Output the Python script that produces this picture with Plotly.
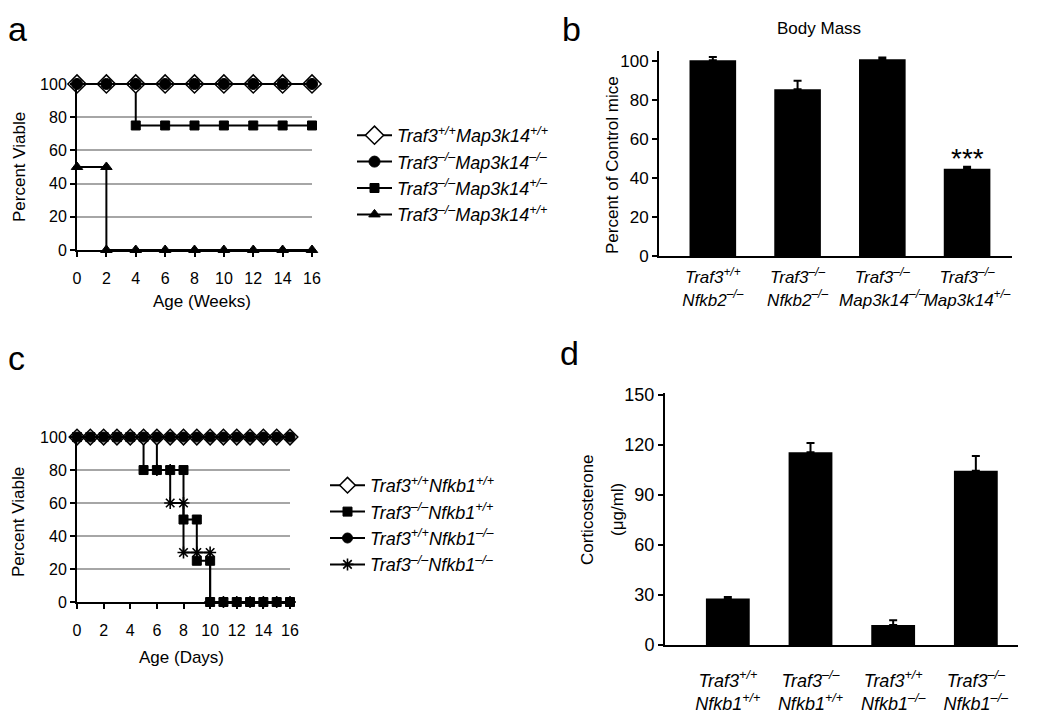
import plotly.graph_objects as go

# The page places the figure 8 px from the top-left corner; the figure is
# sized so that it fills the remaining 1050x726 viewport exactly.
OFF = 8
W, H = 1050 - OFF, 726 - OFF
FONT = "Liberation Sans, Arial, sans-serif"

# ---------------- Panel a data (weeks) ----------------
a_wt_x = [0, 2, 4, 6, 8, 10, 12, 14, 16]
a_wt_y = [100, 100, 100, 100, 100, 100, 100, 100, 100]
a_dko_x = [0, 2, 4, 6, 8, 10, 12, 14, 16]
a_dko_y = [100, 100, 100, 100, 100, 100, 100, 100, 100]
a_het_x = [0, 2, 4, 4, 6, 8, 10, 12, 14, 16]
a_het_y = [100, 100, 100, 75, 75, 75, 75, 75, 75, 75]
a_ko_x = [0, 2, 2, 4, 6, 8, 10, 12, 14, 16]
a_ko_y = [50, 50, 0, 0, 0, 0, 0, 0, 0, 0]
a_names = ["<i>Traf3<sup>+/+</sup>Map3k14<sup>+/+</sup></i>",
           "<i>Traf3<sup>–/–</sup>Map3k14<sup>–/–</sup></i>",
           "<i>Traf3<sup>–/–</sup>Map3k14<sup>+/–</sup></i>",
           "<i>Traf3<sup>–/–</sup>Map3k14<sup>+/+</sup></i>"]

# ---------------- Panel b data ----------------
b_labels = ["<i>Traf3<sup>+/+</sup><br>Nfkb2<sup>–/–</sup></i>",
            "<i>Traf3<sup>–/–</sup><br>Nfkb2<sup>–/–</sup></i>",
            "<i>Traf3<sup>–/–</sup><br>Map3k14<sup>–/–</sup></i>",
            "<i>Traf3<sup>–/–</sup><br>Map3k14<sup>+/–</sup></i>"]
b_vals = [100.2, 85.4, 100.8, 44.7]
b_err = [1.7, 4.3, 0.9, 1.0]

# ---------------- Panel c data (days) ----------------
c_wt_x = [0, 1, 2, 3, 4, 5, 6, 7, 8, 9, 10, 11, 12, 13, 14, 15, 16]
c_wt_y = [100, 100, 100, 100, 100, 100, 100, 100, 100, 100, 100, 100, 100, 100, 100, 100, 100]
c_n1_x = [0, 1, 2, 3, 4, 5, 6, 7, 8, 9, 10, 11, 12, 13, 14, 15, 16]
c_n1_y = [100, 100, 100, 100, 100, 100, 100, 100, 100, 100, 100, 100, 100, 100, 100, 100, 100]
c_t3_x = [0, 1, 2, 3, 4, 5, 5, 6, 7, 8, 8, 9, 9, 10, 10, 11, 12, 13, 14, 15, 16]
c_t3_y = [100, 100, 100, 100, 100, 100, 80, 80, 80, 80, 50, 50, 25, 25, 0, 0, 0, 0, 0, 0, 0]
c_dko_x = [0, 1, 2, 3, 4, 5, 6, 6, 7, 7, 8, 8, 9, 10, 10, 11, 12, 13, 14, 15, 16]
c_dko_y = [100, 100, 100, 100, 100, 100, 100, 80, 80, 60, 60, 30, 30, 30, 0, 0, 0, 0, 0, 0, 0]
c_names = ["<i>Traf3<sup>+/+</sup>Nfkb1<sup>+/+</sup></i>",
           "<i>Traf3<sup>–/–</sup>Nfkb1<sup>+/+</sup></i>",
           "<i>Traf3<sup>+/+</sup>Nfkb1<sup>–/–</sup></i>",
           "<i>Traf3<sup>–/–</sup>Nfkb1<sup>–/–</sup></i>"]

# ---------------- Panel d data ----------------
d_labels = ["<i>Traf3<sup>+/+</sup><br>Nfkb1<sup>+/+</sup></i>",
            "<i>Traf3<sup>–/–</sup><br>Nfkb1<sup>+/+</sup></i>",
            "<i>Traf3<sup>+/+</sup><br>Nfkb1<sup>–/–</sup></i>",
            "<i>Traf3<sup>–/–</sup><br>Nfkb1<sup>–/–</sup></i>"]
d_vals = [27.8, 115.5, 12.0, 104.4]
d_err = [1.0, 5.6, 2.8, 8.8]


def px_x(p):
    return (p - OFF) / W


def px_y(p):
    return 1 - (p - OFF) / H


fig = go.Figure()
LINE = dict(color="black", width=2)


def surv(x, y, name, sym, size, fill, xa, ya, leg, rank, lw=1.5):
    fig.add_trace(go.Scatter(
        x=x, y=y, name=name, mode="lines+markers", line=LINE,
        marker=dict(symbol=sym, size=size, color=fill,
                    line=dict(color="black", width=lw)),
        xaxis=xa, yaxis=ya, legend=leg, legendrank=rank,
        cliponaxis=False, legendgroup=leg + str(rank)))


# panel a (draw order: triangle, square, diamond, circle)
surv(a_ko_x, a_ko_y, a_names[3], "triangle-up", 10, "black", "x", "y", "legend", 4, 1)
surv(a_het_x, a_het_y, a_names[2], "square", 9, "black", "x", "y", "legend", 3, 1)
surv(a_wt_x, a_wt_y, a_names[0], "diamond", 14, "white", "x", "y", "legend", 1, 1.5)
surv(a_dko_x, a_dko_y, a_names[1], "circle", 11, "black", "x", "y", "legend", 2, 1)

# panel c
surv(c_dko_x, c_dko_y, c_names[3], "asterisk-open", 10, "black", "x3", "y3", "legend2", 4, 1.6)
surv(c_t3_x, c_t3_y, c_names[1], "square", 9, "black", "x3", "y3", "legend2", 2, 1)
surv(c_wt_x, c_wt_y, c_names[0], "diamond", 12, "white", "x3", "y3", "legend2", 1, 1.5)
surv(c_n1_x, c_n1_y, c_names[2], "circle", 10, "black", "x3", "y3", "legend2", 3, 1)

# panel b bars
fig.add_trace(go.Bar(
    x=b_labels, y=b_vals, width=0.55, marker=dict(color="black", line=dict(width=0)),
    error_y=dict(type="data", array=b_err, symmetric=False,
                 arrayminus=[0, 0, 0, 0], color="black", thickness=2, width=4),
    xaxis="x2", yaxis="y2", showlegend=False))

# panel d bars
fig.add_trace(go.Bar(
    x=d_labels, y=d_vals, width=0.53, marker=dict(color="black", line=dict(width=0)),
    error_y=dict(type="data", array=d_err, symmetric=False,
                 arrayminus=[0, 0, 0, 0], color="black", thickness=2, width=4),
    xaxis="x4", yaxis="y4", showlegend=False))

TICKF = dict(family=FONT, size=16, color="black")


def ax(**kw):
    base = dict(showline=True, linecolor="black", linewidth=2, zeroline=False,
                ticks="outside", tickcolor="black", tickwidth=1.5, tickfont=TICKF,
                automargin=False, ticklen=5, showgrid=False)
    base.update(kw)
    return base


def note(text, x, y, size=17, angle=0, xanchor="center", yanchor="middle"):
    return dict(text=text, x=px_x(x), y=px_y(y), xref="paper", yref="paper",
                xanchor=xanchor, yanchor=yanchor, showarrow=False, textangle=angle,
                font=dict(family=FONT, size=size, color="black"))


layout = dict(
    width=W, height=H, margin=dict(l=0, r=0, t=0, b=0, autoexpand=False),
    paper_bgcolor="white", plot_bgcolor="white",
    font=dict(family=FONT, color="black"),
    # panel a
    xaxis=ax(domain=[px_x(77), px_x(312)], range=[0, 16], dtick=2, tick0=0, anchor="y",
             ticklabelstandoff=8),
    yaxis=ax(domain=[px_y(250), px_y(82.3)], range=[0, 101], tickvals=[0, 20, 40, 60, 80, 100],
             showgrid=True, gridcolor="#a6a6a6", gridwidth=1.5, anchor="x"),
    # panel b
    xaxis2=ax(domain=[px_x(659), px_x(1012)], range=[-0.635, 3.53], type="category",
              ticks="", tickangle=0, tickfont=dict(family=FONT, size=17, color="black"),
              anchor="y2", ticklabelstandoff=5),
    yaxis2=ax(domain=[px_y(256), px_y(51)], range=[0, 105], tickvals=[0, 20, 40, 60, 80, 100],
              anchor="x2", tickfont=dict(family=FONT, size=17, color="black")),
    # panel c
    xaxis3=ax(domain=[px_x(77), px_x(290)], range=[0, 16], dtick=2, tick0=0, anchor="y3",
              ticklabelstandoff=8),
    yaxis3=ax(domain=[px_y(602), px_y(435.4)], range=[0, 101], tickvals=[0, 20, 40, 60, 80, 100],
              showgrid=True, gridcolor="#a6a6a6", gridwidth=1.5, anchor="x3"),
    # panel d
    xaxis4=ax(domain=[px_x(665), px_x(1018)], range=[-0.76, 3.51], type="category",
              ticks="", tickangle=0, tickfont=dict(family=FONT, size=18, color="black"),
              anchor="y4", ticklabelstandoff=18),
    yaxis4=ax(domain=[px_y(645), px_y(393)], range=[0, 151], tickvals=[0, 30, 60, 90, 120, 150],
              anchor="x4", tickfont=dict(family=FONT, size=18, color="black")),
    legend=dict(x=px_x(352), y=px_y(117), xanchor="left", yanchor="top",
                font=dict(family=FONT, size=18, color="black"), bgcolor="rgba(0,0,0,0)",
                tracegroupgap=4, itemwidth=35, traceorder="normal"),
    legend2=dict(x=px_x(325), y=px_y(467), xanchor="left", yanchor="top",
                 font=dict(family=FONT, size=18, color="black"), bgcolor="rgba(0,0,0,0)",
                 tracegroupgap=11.5, itemwidth=35, traceorder="normal"),
    annotations=[
        # panel letters
        note("a", 6, 8, size=34, xanchor="left", yanchor="top"),
        note("b", 560, 8, size=34, xanchor="left", yanchor="top"),
        note("c", 6, 337, size=34, xanchor="left", yanchor="top"),
        note("d", 558, 332, size=34, xanchor="left", yanchor="top"),
        # titles
        note("Body Mass", 819, 28),
        note("Age (Weeks)", 202, 301),
        note("Percent Viable", 19, 167, angle=-90),
        note("Percent of Control mice", 612, 165, angle=-90),
        note("Age (Days)", 181, 657),
        note("Percent Viable", 18, 522, angle=-90),
        note("Corticosterone", 587, 510, angle=-90),
        note("(μg/ml)", 617, 510, angle=-90),
        dict(text="***", x=b_labels[3], y=b_vals[3] + b_err[3], xref="x2", yref="y2",
             xanchor="center", yanchor="bottom", yshift=-9, showarrow=False,
             font=dict(family=FONT, size=28, color="black")),
    ],
)
fig.update_layout(**layout)
fig.write_html("out.html")
